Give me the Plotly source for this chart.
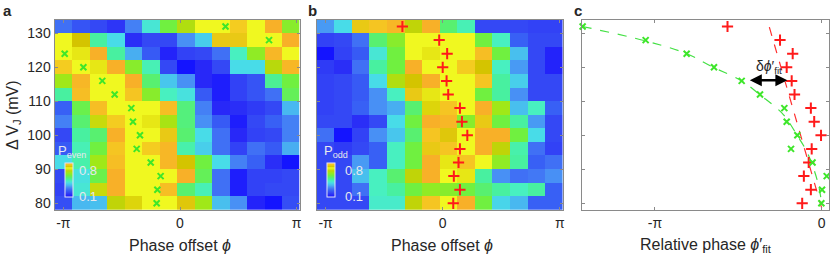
import plotly.graph_objects as go

# ---------------- data ----------------
# phase offset (units of pi) of heatmap columns
phase_cols_pi = [-1.0, -0.85, -0.7, -0.55, -0.4, -0.25, -0.1, 0.05, 0.2, 0.35, 0.5, 0.65, 0.8, 0.95]
# Delta V_J (mV), rows from top to bottom
dv_rows = [132, 128, 124, 120, 116, 112, 108, 104, 100, 96, 92, 88, 84, 80]

p_even = [
    [0.26, 0.21, 0.19, 0.16, 0.28, 0.41, 0.54, 0.62, 0.70, 0.70, 0.76, 0.70, 0.80, 0.57],
    [0.70, 0.73, 0.46, 0.39, 0.15, 0.19, 0.19, 0.30, 0.37, 0.75, 0.75, 0.70, 0.70, 0.80],
    [0.70, 0.71, 0.80, 0.46, 0.33, 0.22, 0.13, 0.18, 0.19, 0.26, 0.43, 0.58, 0.79, 0.70],
    [0.76, 0.70, 0.71, 0.80, 0.57, 0.44, 0.19, 0.10, 0.14, 0.19, 0.39, 0.39, 0.63, 0.79],
    [0.60, 0.79, 0.70, 0.70, 0.80, 0.50, 0.36, 0.30, 0.14, 0.12, 0.18, 0.21, 0.47, 0.54],
    [0.46, 0.78, 0.70, 0.70, 0.77, 0.57, 0.43, 0.40, 0.22, 0.12, 0.18, 0.21, 0.26, 0.52],
    [0.23, 0.53, 0.78, 0.70, 0.70, 0.70, 0.78, 0.49, 0.28, 0.14, 0.15, 0.17, 0.19, 0.34],
    [0.28, 0.50, 0.65, 0.76, 0.70, 0.71, 0.61, 0.49, 0.30, 0.22, 0.12, 0.19, 0.23, 0.28],
    [0.19, 0.46, 0.50, 0.80, 0.70, 0.70, 0.75, 0.50, 0.39, 0.26, 0.14, 0.18, 0.19, 0.28],
    [0.22, 0.44, 0.54, 0.77, 0.70, 0.76, 0.79, 0.45, 0.37, 0.26, 0.18, 0.26, 0.22, 0.33],
    [0.39, 0.45, 0.60, 0.78, 0.70, 0.70, 0.79, 0.73, 0.54, 0.39, 0.28, 0.23, 0.15, 0.10],
    [0.19, 0.40, 0.53, 0.80, 0.70, 0.70, 0.70, 0.80, 0.52, 0.26, 0.12, 0.18, 0.18, 0.19],
    [0.18, 0.41, 0.65, 0.80, 0.70, 0.70, 0.78, 0.50, 0.44, 0.26, 0.12, 0.18, 0.19, 0.19],
    [0.20, 0.34, 0.35, 0.64, 0.72, 0.70, 0.70, 0.74, 0.60, 0.35, 0.30, 0.13, 0.10, 0.20],
]

p_odd = [
    [0.31, 0.39, 0.75, 0.77, 0.79, 0.64, 0.80, 0.50, 0.44, 0.19, 0.19, 0.19, 0.18, 0.18],
    [0.18, 0.19, 0.26, 0.50, 0.57, 0.70, 0.70, 0.70, 0.70, 0.54, 0.43, 0.23, 0.19, 0.19],
    [0.10, 0.18, 0.22, 0.41, 0.54, 0.70, 0.71, 0.70, 0.70, 0.78, 0.54, 0.35, 0.19, 0.13],
    [0.17, 0.15, 0.26, 0.46, 0.54, 0.80, 0.70, 0.70, 0.76, 0.73, 0.43, 0.31, 0.19, 0.13],
    [0.18, 0.19, 0.22, 0.39, 0.62, 0.73, 0.80, 0.70, 0.70, 0.77, 0.46, 0.37, 0.19, 0.19],
    [0.18, 0.19, 0.22, 0.30, 0.43, 0.75, 0.71, 0.70, 0.70, 0.54, 0.46, 0.30, 0.19, 0.19],
    [0.18, 0.19, 0.23, 0.30, 0.33, 0.50, 0.72, 0.77, 0.70, 0.80, 0.60, 0.35, 0.43, 0.23],
    [0.19, 0.19, 0.15, 0.19, 0.39, 0.54, 0.80, 0.79, 0.57, 0.75, 0.54, 0.46, 0.31, 0.19],
    [0.26, 0.10, 0.18, 0.30, 0.36, 0.50, 0.77, 0.74, 0.70, 0.80, 0.80, 0.54, 0.39, 0.19],
    [0.19, 0.17, 0.19, 0.23, 0.43, 0.54, 0.75, 0.77, 0.70, 0.80, 0.64, 0.45, 0.26, 0.18],
    [0.19, 0.19, 0.31, 0.23, 0.43, 0.54, 0.80, 0.71, 0.77, 0.70, 0.58, 0.46, 0.23, 0.26],
    [0.19, 0.19, 0.35, 0.43, 0.50, 0.64, 0.80, 0.70, 0.71, 0.46, 0.30, 0.26, 0.27, 0.30],
    [0.19, 0.19, 0.26, 0.43, 0.46, 0.54, 0.58, 0.57, 0.54, 0.50, 0.46, 0.43, 0.46, 0.23],
    [0.19, 0.19, 0.19, 0.42, 0.42, 0.64, 0.77, 0.70, 0.80, 0.54, 0.38, 0.34, 0.23, 0.23],
]

# fitted phases (units of pi), rows top to bottom
even_peak_pi = [0.39, 0.763, -0.988, -0.828, -0.666, -0.56, -0.417, -0.403, -0.343, -0.371, -0.251, -0.166, -0.194, -0.2]
odd_peak_pi = [-0.344, -0.03, 0.038, 0.0, 0.033, 0.047, 0.147, 0.164, 0.21, 0.147, 0.135, 0.095, 0.147, 0.09]

# relative phase phi'_fit (units of pi), panel c
rel_even_pi = [-1.434, -1.056, -0.81, -0.646, -0.48, -0.37, -0.224, -0.21, -0.146, -0.184, -0.055, 0.03, 0.002, -0.002]
rel_odd_pi = [-0.565, -0.25, -0.174, -0.21, -0.18, -0.163, -0.065, -0.045, -0.004, -0.06, -0.078, -0.107, -0.065, -0.117]

# dashed guide lines
green_fit_pi = [-1.436, -1.06, -0.81, -0.65, -0.48, -0.37, -0.23, -0.15, -0.09, -0.05, -0.02, 0.0]
green_fit_v = [132.0, 127.8, 124.0, 120.0, 116.0, 111.9, 106.1, 100.2, 95.3, 90.4, 85.5, 80.1]
red_fit_pi = [-0.314, 0.0]
red_fit_v = [131.8, 78.6]

# delta phi' arrow (units of pi) at DeltaV
arrow_pi = [-0.44, -0.206]
arrow_v = 116.2

tick_pi = [-1, 0, 1]
tick_pi_text = ["-π", "0", "π"]
tick_v = [80, 90, 100, 110, 120, 130]

# ---------------- style ----------------
W, H = 830, 261
FONT = "Arial, Liberation Sans, Helvetica, sans-serif"
TXT = "#262626"
FRAME = "#8a8a8a"

cmin, cmax = 0.1, 0.8
stops = [
    (0.10, "#1414FF"), (0.14, "#2828F8"), (0.19, "#3448F5"), (0.23, "#3860F5"),
    (0.26, "#4070F5"), (0.30, "#4890F5"), (0.34, "#48B8F0"), (0.39, "#48DCE8"),
    (0.43, "#48F0C0"), (0.46, "#48F0A0"), (0.50, "#58F070"), (0.54, "#70F040"),
    (0.60, "#A0E818"), (0.64, "#C0D408"), (0.70, "#F0F820"), (0.73, "#D4C400"),
    (0.76, "#F4CC20"), (0.80, "#F8B028"),
]
cscale = [[(v - cmin) / (cmax - cmin), c] for v, c in stops]


def fx(p):
    return p / W


def fy(p):
    return 1 - p / H


TOP, BOT = 19.5, 210.0
panels = {
    "a": (54.5, 299.5),
    "b": (316.7, 562.7),
    "c": (582.3, 829.3),
}

fig = go.Figure()


def cbar(x_left):
    return dict(
        x=fx(x_left), xanchor="left", xref="paper",
        y=fy(197.0), yanchor="bottom", yref="paper",
        len=33.5, lenmode="pixels", thickness=8, thicknessmode="pixels",
        xpad=0, ypad=0, outlinecolor="#E4E4F4", outlinewidth=1,
        showticklabels=False, ticks="",
    )


fig.add_trace(go.Heatmap(
    z=p_even, x=phase_cols_pi, y=dv_rows, colorscale=cscale, zmin=cmin, zmax=cmax,
    xaxis="x", yaxis="y", colorbar=cbar(65.0), hoverinfo="skip"))
fig.add_trace(go.Heatmap(
    z=p_odd, x=phase_cols_pi, y=dv_rows, colorscale=cscale, zmin=cmin, zmax=cmax,
    xaxis="x2", yaxis="y2", colorbar=cbar(327.0), hoverinfo="skip"))

GREEN = "#3EE62A"
RED = "#FF1A1A"

fig.add_trace(go.Scatter(
    x=even_peak_pi, y=dv_rows, mode="markers", xaxis="x", yaxis="y",
    marker=dict(symbol="x-thin", size=6, line=dict(color=GREEN, width=2)), hoverinfo="skip"))
fig.add_trace(go.Scatter(
    x=odd_peak_pi, y=dv_rows, mode="markers", xaxis="x2", yaxis="y2",
    marker=dict(symbol="cross-thin", size=8, line=dict(color=RED, width=2)), hoverinfo="skip"))

fig.add_trace(go.Scatter(
    x=green_fit_pi, y=green_fit_v, mode="lines", xaxis="x3", yaxis="y3",
    line=dict(color="#44E044", width=1.2, dash="dash", shape="spline"), hoverinfo="skip"))
fig.add_trace(go.Scatter(
    x=red_fit_pi, y=red_fit_v, mode="lines", xaxis="x3", yaxis="y3",
    line=dict(color="#FF3030", width=1.2, dash="dash"), hoverinfo="skip"))
fig.add_trace(go.Scatter(
    x=rel_odd_pi, y=dv_rows, mode="markers", xaxis="x3", yaxis="y3", cliponaxis=False,
    marker=dict(symbol="cross-thin", size=8, line=dict(color=RED, width=2)), hoverinfo="skip"))
fig.add_trace(go.Scatter(
    x=rel_even_pi, y=dv_rows, mode="markers", xaxis="x3", yaxis="y3", cliponaxis=False,
    marker=dict(symbol="x-thin", size=6, line=dict(color=GREEN, width=2)), hoverinfo="skip"))

axis_common = dict(
    showline=True, linecolor=FRAME, linewidth=1, mirror="ticks",
    ticks="inside", ticklen=3, tickcolor=FRAME, tickwidth=1,
    showgrid=False, zeroline=False, automargin=False,
    tickfont=dict(family=FONT, size=14, color=TXT),
)

layout = dict(
    width=W, height=H, autosize=False,
    margin=dict(l=0, r=0, t=0, b=0, pad=0, autoexpand=False),
    paper_bgcolor="white", plot_bgcolor="white",
    showlegend=False,
    font=dict(family=FONT, color=TXT),
)
for i, key in enumerate(["a", "b", "c"]):
    sfx = "" if i == 0 else str(i + 1)
    x0, x1 = panels[key]
    if key == "c":
        xr = [-1.436, 0.0456]
        xt, xtt = [-1, 0], ["-π", "0"]
    else:
        xr = [-1.0754, 1.024]
        xt, xtt = tick_pi, tick_pi_text
    layout["xaxis" + sfx] = dict(
        axis_common, domain=[fx(x0), fx(x1)], range=xr, anchor="y" + sfx,
        tickvals=xt, ticktext=xtt)
    layout["yaxis" + sfx] = dict(
        axis_common, domain=[fy(BOT), fy(TOP)], range=[78.03, 134.06], anchor="x" + sfx,
        tickvals=tick_v, showticklabels=(key == "a"))
fig.update_layout(**layout)

ann = []


def pa(x, y, text, size=14, color=TXT, xanchor="center", yanchor="middle", **kw):
    ann.append(dict(x=fx(x), y=fy(y), xref="paper", yref="paper", text=text, showarrow=False,
                    font=dict(family=FONT, size=size, color=color),
                    xanchor=xanchor, yanchor=yanchor, **kw))


# panel letters
pa(1, 10.5, "<b>a</b>", size=15, xanchor="left")
pa(305.5, 10.5, "<b>b</b>", size=15, xanchor="left")
pa(571.5, 10.5, "<b>c</b>", size=15, xanchor="left")

# axis titles
pa(180, 245, "Phase offset <i>ϕ</i>", size=16)
pa(442, 245, "Phase offset <i>ϕ</i>", size=16)
pa(706, 245, "Relative phase <i>ϕ</i>′<sub>fit</sub>", size=16)
pa(14, 115, "Δ V<sub>J</sub> (mV)", size=16, textangle=-90)

# colorbar labels
CBT = "#E8E8EE"
for x0, sub in [(56, "even"), (322, "odd")]:
    pa(x0, 151, "P<sub>" + sub + "</sub>", size=13, color=CBT, xanchor="left")
    pa(x0 + 20.5, 170.5, "0.8", size=13, color=CBT, xanchor="left")
    pa(x0 + 20.5, 196.5, "0.1", size=13, color=CBT, xanchor="left")

# arrow in panel c
ann.append(dict(x=arrow_pi[1], y=arrow_v, ax=arrow_pi[0], ay=arrow_v,
                xref="x3", yref="y3", axref="x3", ayref="y3", text="",
                showarrow=True, arrowhead=2, arrowside="end+start", arrowsize=1,
                arrowwidth=2.4, arrowcolor="black"))
ann.append(dict(x=-0.315, y=120.1, xref="x3", yref="y3",
                text="δ<i>ϕ</i>′<sub>fit</sub>", showarrow=False,
                font=dict(family=FONT, size=14, color=TXT)))

fig.update_layout(annotations=ann)
fig.write_html(
    "out.html",
    config={"displayModeBar": False},
    post_script="document.body.style.margin='0';document.body.style.overflow='hidden';",
)
